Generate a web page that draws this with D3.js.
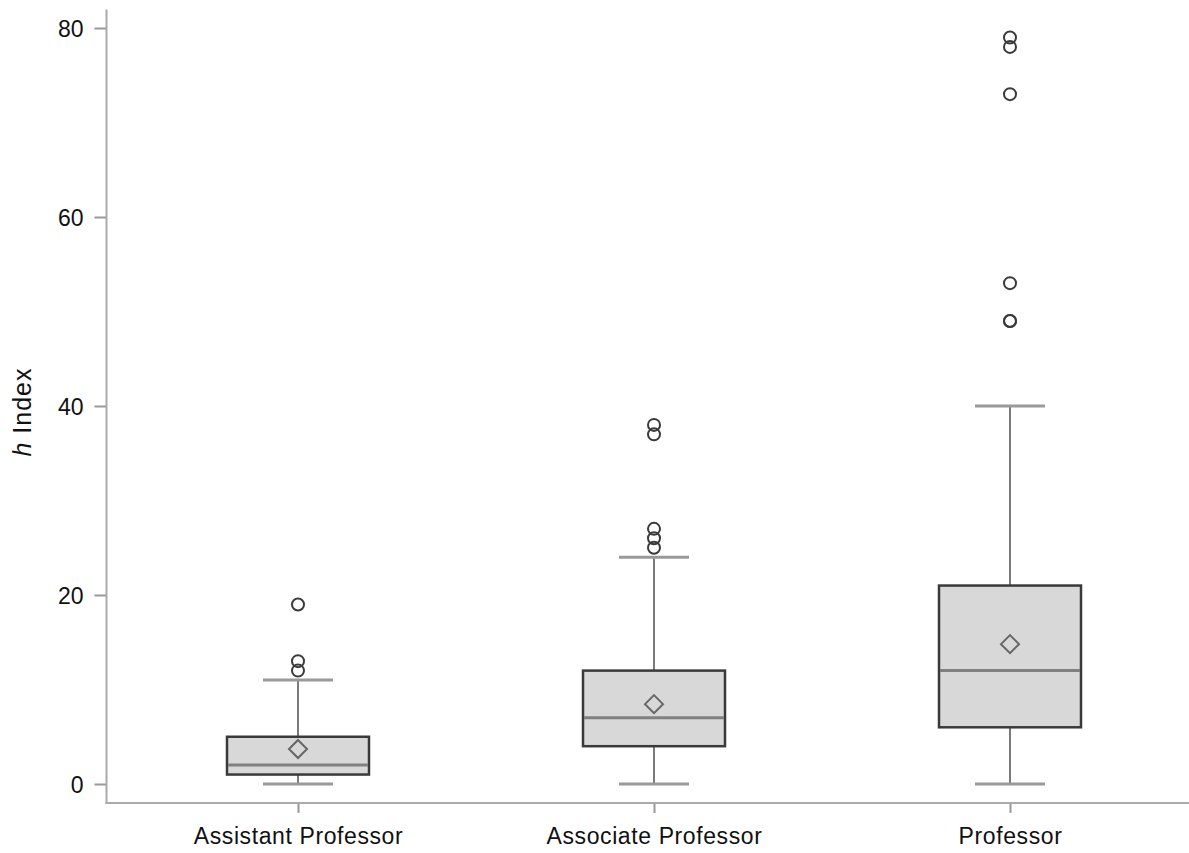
<!DOCTYPE html>
<html><head><meta charset="utf-8">
<script src="https://cdn.jsdelivr.net/npm/d3@7"></script>
<style>body{margin:0;background:#fff}svg{display:block}text{font-family:"Liberation Sans",Arial,sans-serif;fill:#111}</style>
</head><body><svg id="c" width="1189" height="853"></svg>
<script>
const categories = ["Assistant Professor","Associate Professor","Professor"];
const q1Values = [1, 4, 6];
const medianValues = [2, 7, 12];
const q3Values = [5, 12, 21];
const meanValues = [3.7, 8.45, 14.8];
const whiskerLow = [0, 0, 0];
const whiskerHigh = [11, 24, 40];
const outliers = [[12, 13, 19], [25, 26, 27, 37, 38], [49, 49, 53, 73, 78, 79]];
const yTicks = [0, 20, 40, 60, 80];

const svg = d3.select("#c");
const y = d3.scaleLinear().domain([0, 80]).range([784, 28]);
const x = d3.scalePoint().domain(categories).range([298, 1010]);
const axisX0 = 106.5, axisY0 = y(-2);
const boxW = 142, capW = 70;

// axes
const yAxis = svg.append("g").attr("transform", `translate(${axisX0},0)`)
  .call(d3.axisLeft(y).tickValues(yTicks).tickSize(12).tickPadding(11).tickFormat(d3.format("d")));
yAxis.select(".domain").remove();
yAxis.selectAll(".tick line").attr("stroke", "#999").attr("stroke-width", 2);
yAxis.selectAll(".tick text").style("font-size", "23px").attr("fill", "#111").attr("dy", "0.36em");
svg.append("line").attr("x1", axisX0).attr("x2", axisX0).attr("y1", y(81.95)).attr("y2", axisY0 + 1)
  .attr("stroke", "#aaa").attr("stroke-width", 2);

const xAxis = svg.append("g").attr("transform", `translate(0,${axisY0})`)
  .call(d3.axisBottom(x).tickSize(10).tickPadding(15));
xAxis.select(".domain").remove();
xAxis.selectAll(".tick line").attr("stroke", "#999").attr("stroke-width", 2);
xAxis.selectAll(".tick text").style("font-size", "23px").attr("fill", "#111").attr("letter-spacing", "0.6px");
svg.append("line").attr("x1", axisX0 - 1).attr("x2", 1189).attr("y1", axisY0).attr("y2", axisY0)
  .attr("stroke", "#aaa").attr("stroke-width", 2);

// y label
svg.append("text").attr("transform", `translate(31,412) rotate(-90)`).attr("text-anchor", "middle")
  .style("font-size", "25px").attr("letter-spacing", "1px")
  .call(t => { t.append("tspan").attr("font-style", "italic").text("h"); t.append("tspan").text(" Index"); });

// boxes
categories.forEach((c, i) => {
  const cx = x(c);
  const g = svg.append("g");
  g.append("line").attr("x1", cx).attr("x2", cx).attr("y1", y(q3Values[i])).attr("y2", y(whiskerHigh[i]))
    .attr("stroke", "#7a7a7a").attr("stroke-width", 2);
  g.append("line").attr("x1", cx).attr("x2", cx).attr("y1", y(q1Values[i])).attr("y2", y(whiskerLow[i]))
    .attr("stroke", "#7a7a7a").attr("stroke-width", 2);
  [whiskerHigh[i], whiskerLow[i]].forEach(v => {
    g.append("line").attr("x1", cx - capW / 2).attr("x2", cx + capW / 2).attr("y1", y(v)).attr("y2", y(v))
      .attr("stroke", "#9a9a9a").attr("stroke-width", 3);
  });
  g.append("rect").attr("x", cx - boxW / 2).attr("width", boxW)
    .attr("y", y(q3Values[i])).attr("height", y(q1Values[i]) - y(q3Values[i]))
    .attr("fill", "#d8d8d8").attr("stroke", "#3a3a3a").attr("stroke-width", 2.5);
  g.append("line").attr("x1", cx - boxW / 2 + 1).attr("x2", cx + boxW / 2 - 1)
    .attr("y1", y(medianValues[i])).attr("y2", y(medianValues[i]))
    .attr("stroke", "#808080").attr("stroke-width", 3);
  g.append("path").attr("transform", `translate(${cx},${y(meanValues[i])})`)
    .attr("d", "M0,-9L9,0L0,9L-9,0Z").attr("fill", "none").attr("stroke", "#666").attr("stroke-width", 2);
  g.selectAll("circle").data(outliers[i]).join("circle")
    .attr("cx", cx).attr("cy", d => y(d)).attr("r", 6)
    .attr("fill", "none").attr("stroke", "#3a3a3a").attr("stroke-width", 2);
});
</script></body></html>
